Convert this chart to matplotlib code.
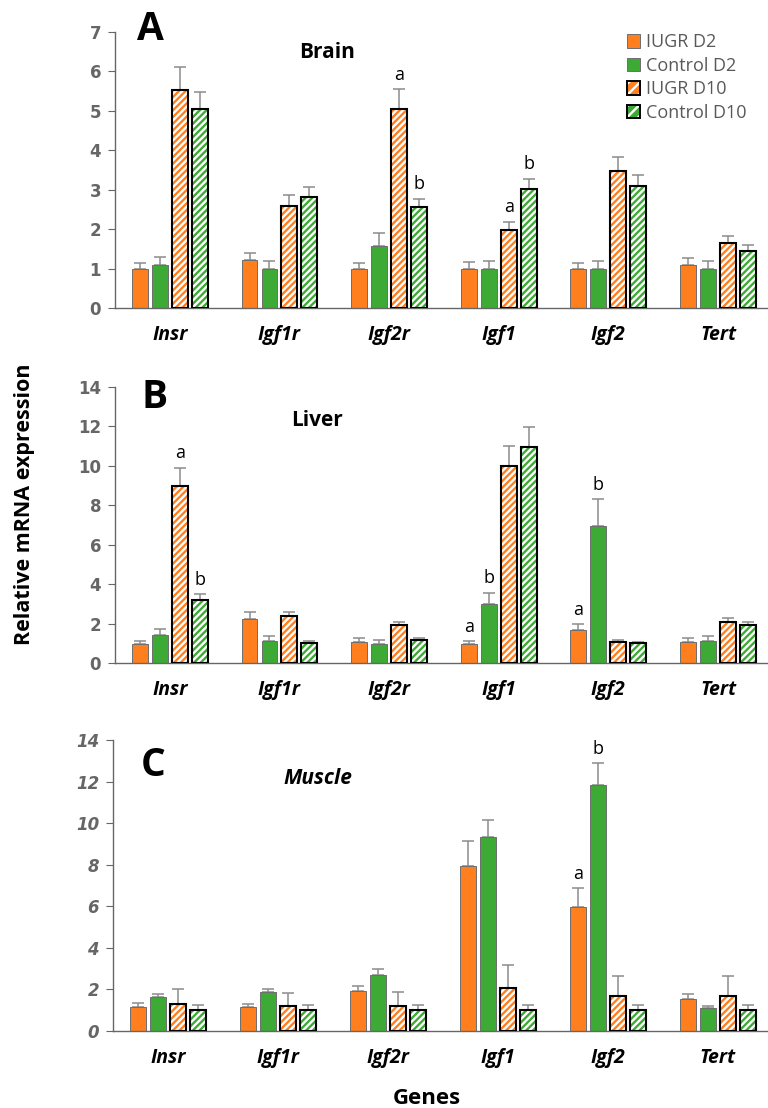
import matplotlib
matplotlib.use("Agg")

import numpy as np
import matplotlib.pyplot as plt
from matplotlib.patches import Patch

plt.rcParams["hatch.linewidth"] = 1.7

# ── Data ─────────────────────────────────────────────────────────────────────
genes = ["Insr", "Igf1r", "Igf2r", "Igf1", "Igf2", "Tert"]
groups = ["IUGR D2", "Control D2", "IUGR D10", "Control D10"]

# Brain
brain_iugr_d2 = [1.00, 1.22, 1.00, 1.00, 1.00, 1.10]
brain_ctrl_d2 = [1.08, 1.00, 1.57, 1.00, 1.00, 1.00]
brain_iugr_d10 = [5.54, 2.59, 5.05, 1.98, 3.47, 1.66]
brain_ctrl_d10 = [5.04, 2.82, 2.55, 3.02, 3.10, 1.45]
brain_err_iugr_d2 = [0.14, 0.17, 0.14, 0.16, 0.13, 0.18]
brain_err_ctrl_d2 = [0.21, 0.19, 0.32, 0.19, 0.19, 0.19]
brain_err_iugr_d10 = [0.56, 0.27, 0.50, 0.21, 0.36, 0.17]
brain_err_ctrl_d10 = [0.43, 0.24, 0.22, 0.26, 0.27, 0.14]

# Liver
liver_iugr_d2 = [0.98, 2.23, 1.06, 0.98, 1.67, 1.08]
liver_ctrl_d2 = [1.43, 1.13, 0.98, 2.98, 6.93, 1.11]
liver_iugr_d10 = [8.97, 2.38, 1.91, 10.00, 1.08, 2.07]
liver_ctrl_d10 = [3.20, 1.01, 1.15, 10.96, 1.00, 1.91]
liver_err_iugr_d2 = [0.13, 0.35, 0.19, 0.13, 0.29, 0.17]
liver_err_ctrl_d2 = [0.32, 0.25, 0.18, 0.58, 1.38, 0.26]
liver_err_iugr_d10 = [0.93, 0.23, 0.15, 1.00, 0.07, 0.21]
liver_err_ctrl_d10 = [0.29, 0.09, 0.10, 1.01, 0.08, 0.15]

# Muscle
muscle_iugr_d2 = [1.15, 1.15, 1.91, 7.94, 5.97, 1.52]
muscle_ctrl_d2 = [1.64, 1.86, 2.68, 9.32, 11.83, 1.12]
muscle_iugr_d10 = [1.28, 1.19, 1.22, 2.08, 1.70, 1.70]
muscle_ctrl_d10 = [1.03, 1.03, 1.03, 1.03, 1.03, 1.03]
muscle_err_iugr_d2 = [0.18, 0.16, 0.27, 1.18, 0.89, 0.24]
muscle_err_ctrl_d2 = [0.14, 0.16, 0.29, 0.81, 1.06, 0.07]
muscle_err_iugr_d10 = [0.74, 0.64, 0.64, 1.10, 0.93, 0.93]
muscle_err_ctrl_d10 = [0.20, 0.20, 0.20, 0.20, 0.20, 0.20]

# significance letters: (gene index, group index, letter)
brain_letters = [(2, 2, "a"), (2, 3, "b"), (3, 2, "a"), (3, 3, "b")]
liver_letters = [(0, 2, "a"), (0, 3, "b"), (3, 0, "a"), (3, 1, "b"), (4, 0, "a"), (4, 1, "b")]
muscle_letters = [(4, 0, "a"), (4, 1, "b")]

# ── Style ─────────────────────────────────────────────────────────────────────
ORANGE = "#FF7F1F"
GREEN = "#3DAA35"
GRAY = "#666666"
BAR_W = 0.145
PITCH = 0.182

FONT = ["Open Sans", "DejaVu Sans"]


def draw_panel(ax, vals, errs, letters, ymax, ystep, italic_ticks):
    x = np.arange(len(genes))
    offsets = (np.arange(4) - 1.5) * PITCH
    colors = [ORANGE, GREEN, ORANGE, GREEN]
    for i, (v, e) in enumerate(zip(vals, errs)):
        xi = x + offsets[i]
        ax.errorbar(xi, v, yerr=[np.zeros(len(v)), e], fmt="none",
                    ecolor="#8c8c8c", elinewidth=1.1, capsize=4, capthick=1.1, zorder=1)
        if i < 2:
            ax.bar(xi, v, BAR_W, color=colors[i], edgecolor="#6e6e6e", linewidth=0.7, zorder=2)
        else:
            ax.bar(xi, v, BAR_W, color=colors[i], edgecolor="white", hatch="/////",
                   linewidth=0, zorder=2)
            ax.bar(xi, v, BAR_W, fill=False, edgecolor="black", linewidth=1.5, zorder=3)

    for gi, grp, txt in letters:
        top = vals[grp][gi] + errs[grp][gi]
        ax.annotate(txt, (gi + offsets[grp], top), xytext=(0, 4), textcoords="offset points",
                    ha="center", va="bottom", fontsize=13, family=FONT)

    ax.set_xlim(-0.5, 5.456)
    ax.set_ylim(0, ymax)
    ax.set_yticks(np.arange(0, ymax + 0.1, ystep))
    ax.set_xticks(x)
    ax.set_xticklabels(genes, fontsize=14, fontweight="bold", fontstyle="italic", family=FONT)
    ax.tick_params(axis="x", length=0, pad=12)
    ax.tick_params(axis="y", length=5, color=GRAY, labelcolor=GRAY, labelsize=12, pad=5)
    for lab in ax.get_yticklabels():
        lab.set_fontweight("bold")
        lab.set_family("DejaVu Sans")
        if italic_ticks:
            lab.set_fontstyle("italic")
    for s in ["top", "right"]:
        ax.spines[s].set_visible(False)
    for s in ["left", "bottom"]:
        ax.spines[s].set_color(GRAY)
        ax.spines[s].set_linewidth(1.0)


fig = plt.figure(figsize=(7.68, 11.08), dpi=100)
W, H = 768.0, 1108.0

ax_a = fig.add_axes([115 / W, 1 - 308 / H, (768 - 115) / W, 276 / H])
ax_b = fig.add_axes([115 / W, 1 - 663 / H, (768 - 115) / W, 276 / H])
ax_c = fig.add_axes([113 / W, 1 - 1031 / H, (768 - 113) / W, 291 / H])

draw_panel(ax_a,
           [brain_iugr_d2, brain_ctrl_d2, brain_iugr_d10, brain_ctrl_d10],
           [brain_err_iugr_d2, brain_err_ctrl_d2, brain_err_iugr_d10, brain_err_ctrl_d10],
           brain_letters, 7, 1, False)
draw_panel(ax_b,
           [liver_iugr_d2, liver_ctrl_d2, liver_iugr_d10, liver_ctrl_d10],
           [liver_err_iugr_d2, liver_err_ctrl_d2, liver_err_iugr_d10, liver_err_ctrl_d10],
           liver_letters, 14, 2, False)
draw_panel(ax_c,
           [muscle_iugr_d2, muscle_ctrl_d2, muscle_iugr_d10, muscle_ctrl_d10],
           [muscle_err_iugr_d2, muscle_err_ctrl_d2, muscle_err_iugr_d10, muscle_err_ctrl_d10],
           muscle_letters, 14, 2, True)

# panel letters and tissue titles
fig.text(150 / W, 1 - 30 / H, "A", fontsize=28, fontweight="bold", ha="center", va="center", family=FONT)
fig.text(155 / W, 1 - 397 / H, "B", fontsize=28, fontweight="bold", ha="center", va="center", family=FONT)
fig.text(153 / W, 1 - 765 / H, "C", fontsize=28, fontweight="bold", ha="center", va="center", family=FONT)
fig.text(327 / W, 1 - 53 / H, "Brain", fontsize=15, fontweight="bold", ha="center", va="center", family=FONT)
fig.text(317 / W, 1 - 420 / H, "Liver", fontsize=15, fontweight="bold", ha="center", va="center", family=FONT)
fig.text(318 / W, 1 - 778 / H, "Muscle", fontsize=15, fontweight="bold", fontstyle="italic",
         ha="center", va="center", family=FONT)

fig.text(25 / W, 1 - 504 / H, "Relative mRNA expression", fontsize=15.5, fontweight="bold",
         rotation=90, ha="center", va="center", family=FONT)
fig.text(427 / W, 1 - 1099 / H, "Genes", fontsize=16, fontweight="bold", ha="center", va="center",
         family=FONT)

# legend
h1 = Patch(facecolor=ORANGE, edgecolor="#6e6e6e", linewidth=0.7)
h2 = Patch(facecolor=GREEN, edgecolor="#6e6e6e", linewidth=0.7)
h3 = (Patch(facecolor=ORANGE, edgecolor="white", hatch="///", linewidth=0),
      Patch(fill=False, edgecolor="black", linewidth=1.4))
h4 = (Patch(facecolor=GREEN, edgecolor="white", hatch="///", linewidth=0),
      Patch(fill=False, edgecolor="black", linewidth=1.4))
leg = ax_a.legend([h1, h2, h3, h4], groups, loc="upper left", bbox_to_anchor=(0.784, 0.995),
                  frameon=False, borderpad=0, borderaxespad=0,
                  handlelength=0.75, handleheight=0.75, handletextpad=0.3,
                  labelspacing=0.3, prop={"family": FONT, "size": 13})
for t in leg.get_texts():
    t.set_color("#595959")

fig.savefig("out.png", dpi=100)
